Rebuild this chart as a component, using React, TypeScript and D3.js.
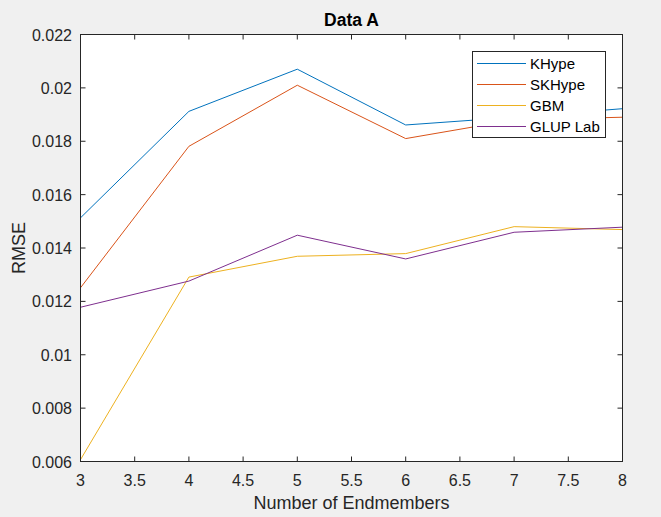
import React from "react";
import * as d3 from "d3";

const endmembers = [3, 4, 5, 6, 7, 8];
const khype = [0.01513, 0.01912, 0.0207, 0.01861, 0.0189, 0.01922];
const skhype = [0.01251, 0.01781, 0.0201, 0.0181, 0.0188, 0.0189];
const gbm = [0.00607, 0.01291, 0.01369, 0.01379, 0.0148, 0.01469];
const glup = [0.01178, 0.01276, 0.01448, 0.01359, 0.01459, 0.01478];
const seriesNames = ["KHype", "SKHype", "GBM", "GLUP Lab"];
const seriesColors = ["#0072BD", "#D95319", "#EDB120", "#7E2F8E"];
const xTicks = [3, 3.5, 4, 4.5, 5, 5.5, 6, 6.5, 7, 7.5, 8];
const yTicks = [0.006, 0.008, 0.01, 0.012, 0.014, 0.016, 0.018, 0.02, 0.022];

const W = 661, H = 517;
const L = 80.5, R = 622.5, T = 34.5, B = 461.5;
const axisColor = "#262626";
const font = "Arial, 'Liberation Sans', Helvetica, sans-serif";

export default function App() {
  const x = d3.scaleLinear().domain([3, 8]).range([L, R]);
  const y = d3.scaleLinear().domain([0.006, 0.022]).range([B, T]);
  const line = d3.line<number>().x((_, i) => x(endmembers[i])).y((d) => y(d));
  const all = [khype, skhype, gbm, glup];
  const tick = 5;
  return (
    <svg width={W} height={H} style={{ position: "absolute", left: 0, top: 0, background: "#f0f0f0" }}>
      <rect x={0} y={0} width={W} height={H} fill="#f0f0f0" />
      <rect x={L} y={T} width={R - L} height={B - T} fill="#ffffff" />
      <defs>
        <clipPath id="plot">
          <rect x={L} y={T} width={R - L} height={B - T} />
        </clipPath>
      </defs>
      <g clipPath="url(#plot)">
        {all.map((s, i) => (
          <path key={i} d={line(s) || ""} fill="none" stroke={seriesColors[i]} strokeWidth={1} />
        ))}
      </g>
      {xTicks.map((t) => (
        <g key={"x" + t}>
          <line x1={x(t)} x2={x(t)} y1={B} y2={B - tick} stroke={axisColor} />
          <line x1={x(t)} x2={x(t)} y1={T} y2={T + tick} stroke={axisColor} />
          <text x={x(t)} y={486} textAnchor="middle" fontFamily={font} fontSize={16} fill={axisColor}>
            {String(t)}
          </text>
        </g>
      ))}
      {yTicks.map((t) => (
        <g key={"y" + t}>
          <line x1={L} x2={L + tick} y1={y(t)} y2={y(t)} stroke={axisColor} />
          <line x1={R} x2={R - tick} y1={y(t)} y2={y(t)} stroke={axisColor} />
          <text x={72} y={y(t) + 6} textAnchor="end" fontFamily={font} fontSize={16} fill={axisColor}>
            {String(+t.toFixed(3))}
          </text>
        </g>
      ))}
      <rect x={L} y={T} width={R - L} height={B - T} fill="none" stroke={axisColor} strokeWidth={1} />
      <text x={(L + R) / 2} y={26} textAnchor="middle" fontFamily={font} fontSize={17.5} fontWeight="bold" fill="#000">
        Data A
      </text>
      <text x={(L + R) / 2} y={509} textAnchor="middle" fontFamily={font} fontSize={18} fill={axisColor}>
        Number of Endmembers
      </text>
      <text transform={`translate(25,${(T + B) / 2}) rotate(-90)`} textAnchor="middle" fontFamily={font} fontSize={18} fill={axisColor}>
        RMSE
      </text>
      <g>
        <rect x={472.5} y={51.5} width={133} height={86} fill="#ffffff" stroke={axisColor} strokeWidth={1} />
        {seriesNames.map((n, i) => (
          <g key={n}>
            <line x1={477} x2={526} y1={63.5 + i * 21} y2={63.5 + i * 21} stroke={seriesColors[i]} strokeWidth={1} />
            <text x={530} y={63.5 + i * 21 + 5.5} fontFamily={font} fontSize={15} fill="#000">
              {n}
            </text>
          </g>
        ))}
      </g>
    </svg>
  );
}
